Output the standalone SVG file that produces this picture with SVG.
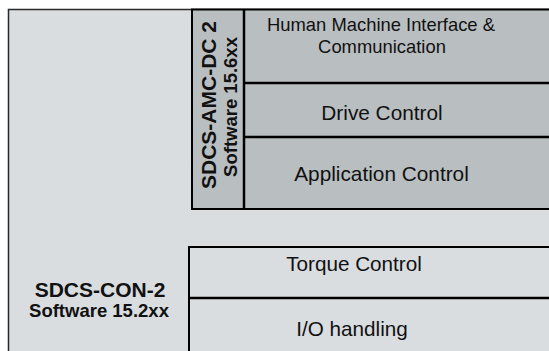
<svg xmlns="http://www.w3.org/2000/svg" width="549" height="351" viewBox="0 0 549 351">
<style>
.outer{fill:#d9dde0;stroke:#2a2a2a;stroke-width:1.5}
.amc{fill:#b9bec1;stroke:#000;stroke-width:2}
.low{fill:#d9dde0;stroke:#000;stroke-width:2}
.ln{stroke:#000;stroke-width:2.5;fill:none}
.t{font-family:"Liberation Sans",Arial,sans-serif;fill:#111;text-anchor:middle}
.b{font-family:"Liberation Sans",Arial,sans-serif;font-weight:bold;fill:#111;text-anchor:middle}
</style>
<rect x="0" y="0" width="549" height="351" fill="#fff"/>
<g id="con2">
<rect class="outer" x="8.5" y="9.5" width="560" height="360"/>
<text class="b" x="100" y="297" font-size="21">SDCS-CON-2</text>
<text class="b" x="99" y="317" font-size="18.5">Software 15.2xx</text>
</g>
<g id="amc">
<rect class="amc" x="192" y="9.5" width="380" height="199.5"/>
<text class="b" transform="translate(216,105) rotate(-90)" font-size="21">SDCS-AMC-DC 2</text>
<text class="b" transform="translate(237,107) rotate(-90)" font-size="18.5">Software 15.6xx</text>
</g>
<g id="lower">
<rect class="low" x="189" y="247" width="380" height="130"/>
</g>
<g id="connectors">
<line class="ln" x1="244" y1="9.5" x2="244" y2="209"/>
<line class="ln" x1="244" y1="83" x2="560" y2="83"/>
<line class="ln" x1="244" y1="137" x2="560" y2="137"/>
<line class="ln" x1="189" y1="298" x2="560" y2="298"/>
</g>
<g id="hmi"><text class="t" x="381" y="31" font-size="18.4">Human Machine Interface &amp;</text>
<text class="t" x="382" y="53" font-size="18.4">Communication</text></g>
<g id="drive"><text class="t" x="382" y="120" font-size="20.8">Drive Control</text></g>
<g id="app"><text class="t" x="381.5" y="181" font-size="20.8">Application Control</text></g>
<g id="torque"><text class="t" x="354" y="271" font-size="20.7">Torque Control</text></g>
<g id="io"><text class="t" x="352" y="336" font-size="20.7">I/O handling</text></g>
</svg>
